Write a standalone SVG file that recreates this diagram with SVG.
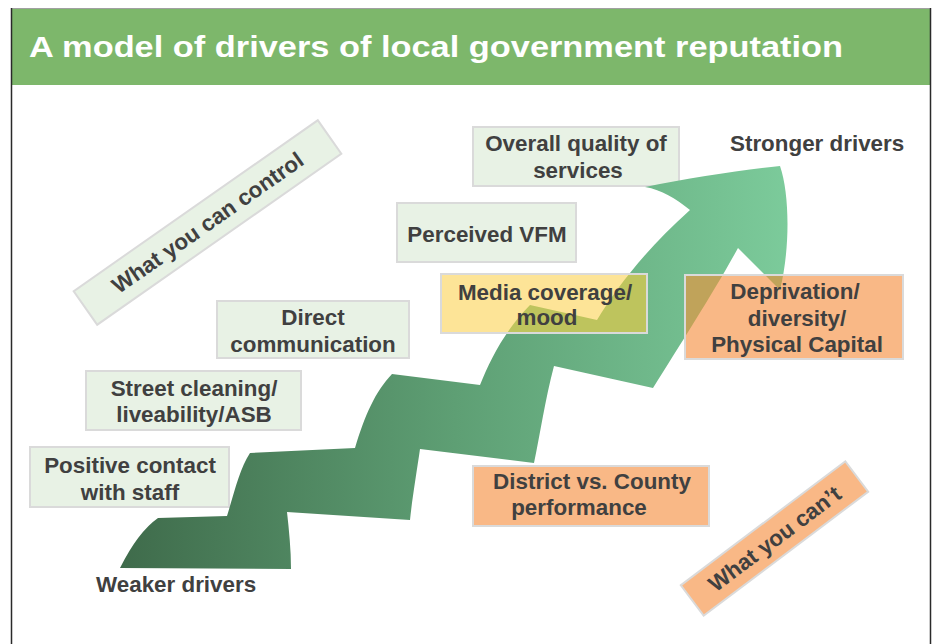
<svg xmlns="http://www.w3.org/2000/svg" width="936" height="644" viewBox="0 0 936 644">
  <style>
    .lbl { font-family: "Liberation Sans", Arial, sans-serif; font-weight: bold; font-size: 22.4px; fill: #404040; text-anchor: middle; }
    .free { text-anchor: start; }
    .title { font-family: "Liberation Sans", Arial, sans-serif; font-weight: bold; font-size: 29px; fill: #ffffff; }
    .box-g { fill: #e8f2e5; stroke: #dadada; stroke-width: 2; }
    .box-y { fill: #fde497; stroke: #dadada; stroke-width: 2; }
    .box-o { fill: #f9b886; stroke: #dadada; stroke-width: 2; }
    .edge { fill: none; stroke: #dadada; stroke-width: 2; }
  </style>
  <defs>
    <linearGradient id="arrowFill" gradientUnits="userSpaceOnUse" x1="120" y1="0" x2="790" y2="0">
      <stop offset="0" stop-color="#3f6b4b"/>
      <stop offset="0.5" stop-color="#5e9f74"/>
      <stop offset="1" stop-color="#7ccb9b"/>
    </linearGradient>
    <path id="arrowShape" d="M120,568 Q138,532 158,518 L227,516 C235,490 240,468 250,453 L355,448 C365,415 375,392 392,374 L480,385 C490,360 505,330 530,305 L597,320 C615,290 645,250 690,210 C675,198 662,190 645,187 C690,178 740,170 780,166 C790,195 790,250 780,290 L738,248 C715,290 680,345 653,388 L554,366 C545,400 540,435 534,463 L420,449 C417,470 412,500 410,520 L287,512 C289,530 291,550 291,569 Z"/>
    <clipPath id="arrowClip"><use href="#arrowShape"/></clipPath>
  </defs>

  <!-- page frame and title band -->
  <rect x="0" y="0" width="936" height="644" fill="#ffffff"/>
  <rect x="12" y="9" width="918" height="76" fill="#7db76b"/>
  <line x1="11" y1="8.5" x2="931" y2="8.5" stroke="#a0a0a0" stroke-width="1"/>
  <line x1="11.5" y1="8" x2="11.5" y2="644" stroke="#2a2a2a" stroke-width="1.5"/>
  <line x1="930.5" y1="8" x2="930.5" y2="644" stroke="#2a2a2a" stroke-width="1.5"/>
  <text class="title" x="29" y="57" textLength="814" lengthAdjust="spacingAndGlyphs">A model of drivers of local government reputation</text>

  <!-- controllable drivers (drawn beneath the arrow) -->
  <g id="node-control">
    <g transform="translate(207.5,222.5) rotate(-35)">
      <rect class="box-g" x="-149" y="-20.5" width="298" height="41"/>
      <text class="lbl" x="0" y="8">What you can control</text>
    </g>
  </g>
  <g id="node-quality">
    <rect class="box-g" x="473" y="127" width="206" height="59"/>
    <text class="lbl" x="576" y="151">Overall quality of</text>
    <text class="lbl" x="578" y="178">services</text>
  </g>
  <g id="node-vfm">
    <rect class="box-g" x="397" y="203" width="179" height="59"/>
    <text class="lbl" x="487" y="242">Perceived VFM</text>
  </g>
  <g id="node-direct">
    <rect class="box-g" x="217" y="301" width="192" height="57"/>
    <text class="lbl" x="313" y="325">Direct</text>
    <text class="lbl" x="313" y="352">communication</text>
  </g>
  <g id="node-street">
    <rect class="box-g" x="86" y="371" width="215" height="59"/>
    <text class="lbl" x="194" y="396">Street cleaning/</text>
    <text class="lbl" x="194" y="422">liveability/ASB</text>
  </g>
  <g id="node-contact">
    <rect class="box-g" x="30" y="447" width="199" height="60"/>
    <text class="lbl" x="130" y="473">Positive contact</text>
    <text class="lbl" x="130" y="500">with staff</text>
  </g>

  <!-- rising arrow from weaker to stronger drivers -->
  <g id="growth-arrow">
    <use href="#arrowShape" fill="url(#arrowFill)"/>
  </g>

  <!-- drivers outside direct control -->
  <g id="node-media">
    <rect class="box-y" x="441" y="274" width="206" height="59"/>
    <rect x="441" y="274" width="206" height="59" fill="#bec45d" clip-path="url(#arrowClip)"/>
    <rect class="edge" x="441" y="274" width="206" height="59"/>
    <text class="lbl" x="545" y="300">Media coverage/</text>
    <text class="lbl" x="547" y="325">mood</text>
  </g>
  <g id="node-deprivation">
    <rect class="box-o" x="685" y="275" width="218" height="84"/>
    <rect x="685" y="275" width="218" height="84" fill="#c0a35a" clip-path="url(#arrowClip)"/>
    <rect class="edge" x="685" y="275" width="218" height="84"/>
    <text class="lbl" x="795" y="299">Deprivation/</text>
    <text class="lbl" x="797" y="326">diversity/</text>
    <text class="lbl" x="797" y="352">Physical Capital</text>
  </g>
  <g id="node-district">
    <rect class="box-o" x="473" y="466" width="236" height="60"/>
    <text class="lbl" x="592" y="489">District vs. County</text>
    <text class="lbl" x="579" y="515">performance</text>
  </g>
  <g id="node-cant">
    <g transform="translate(774.5,538.5) rotate(-37)">
      <rect class="box-o" x="-103" y="-19" width="206" height="38"/>
      <text class="lbl" x="0" y="8">What you can’t</text>
    </g>
  </g>

  <!-- scale end labels -->
  <g id="label-stronger">
    <text class="lbl free" x="730" y="151">Stronger drivers</text>
  </g>
  <g id="label-weaker">
    <text class="lbl free" x="96" y="592">Weaker drivers</text>
  </g>
</svg>
